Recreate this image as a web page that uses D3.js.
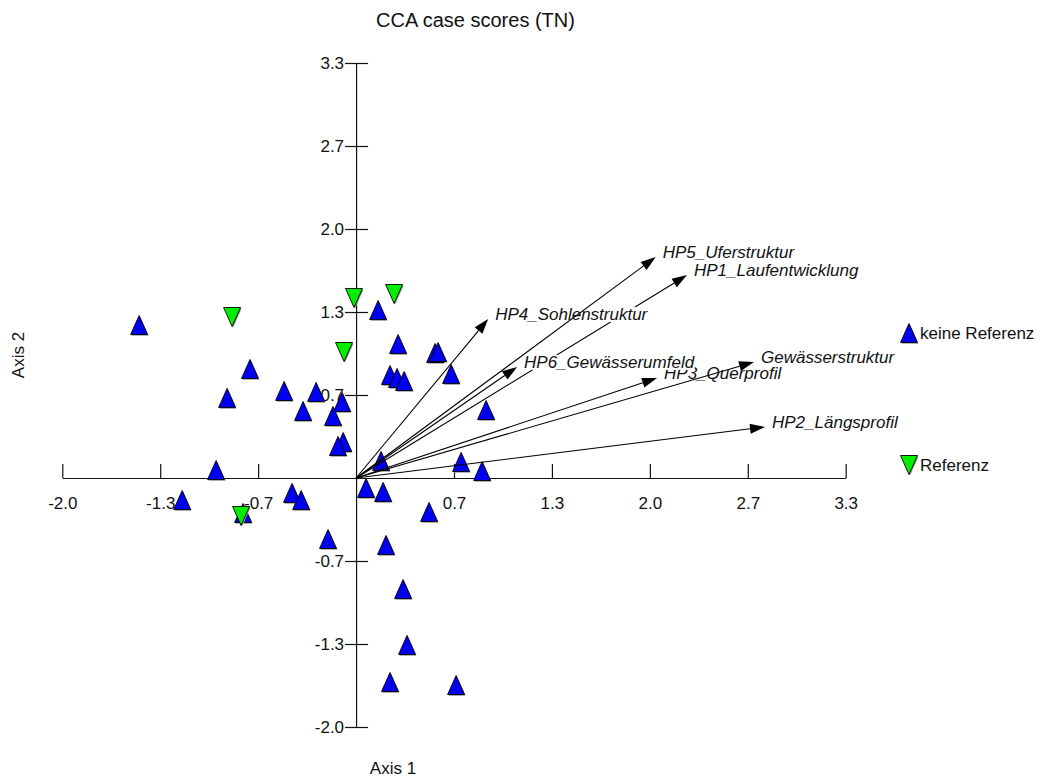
<!DOCTYPE html>
<html>
<head>
<meta charset="utf-8">
<script src="https://cdn.jsdelivr.net/npm/d3@7"></script>
<style>
  html, body { margin: 0; padding: 0; background: #fff; }
  svg { display: block; font-family: "Liberation Sans", Arial, sans-serif; }
</style>
</head>
<body>
<svg id="chart" width="1043" height="780"></svg>
<script>
// Axis ticks (multiples of 2/3, labelled with one decimal)
const tickValues = [-2, -4 / 3, -2 / 3, 2 / 3, 4 / 3, 2, 8 / 3, 10 / 3];
const tickLabels = ["-2.0", "-1.3", "-0.7", "0.7", "1.3", "2.0", "2.7", "3.3"];

// Sample scores: sites without reference status
const blueX = [-1.477, -0.722, -0.878, -0.490, -0.361, -0.272, -0.095, -0.157, -0.088, -0.123,
               -0.953, -1.184, -0.769, -0.436, -0.374, 0.150, 0.286, 0.538, 0.558, 0.231,
               0.279, 0.327, 0.647, 0.885, 0.715, 0.858, 0.170, 0.068, 0.184, -0.191,
               0.204, 0.497, 0.320, 0.347, 0.231, 0.681];
const blueY = [1.229, 0.876, 0.643, 0.699, 0.538, 0.691, 0.610, 0.498, 0.289, 0.257,
               0.064, -0.177, -0.281, -0.120, -0.177, 1.349, 1.076, 1.004, 1.012, 0.827,
               0.803, 0.779, 0.835, 0.546, 0.129, 0.056, 0.137, -0.080, -0.112, -0.490,
               -0.538, -0.273, -0.892, -1.341, -1.639, -1.663];

// Sample scores: reference sites
const greenX = [-0.844, -0.082, -0.014, 0.259, -0.783];
const greenY = [1.293, 1.012, 1.446, 1.478, -0.305];

// Environmental variables (biplot arrows)
const envNames = ["HP1_Laufentwicklung", "HP2_Längsprofil", "HP3_Querprofil", "HP4_Sohlenstruktur",
                  "HP5_Uferstruktur", "HP6_Gewässerumfeld", "Gewässerstruktur"];
const envX = [2.253, 2.784, 2.049, 0.899, 2.040, 1.096, 2.709];
const envY = [1.630, 0.410, 0.803, 1.277, 1.775, 0.892, 0.932];

const legendLabels = ["keine Referenz", "Referenz"];

const BLUE = "#0000f0";
const GREEN = "#00ee00";

const svg = d3.select("#chart");

const x = d3.scaleLinear().domain([-2, 10 / 3]).range([62.3, 845.7]);
const y = d3.scaleLinear().domain([-2, 10 / 3]).range([727, 63]);

// Triangle symbols centred on their bounding box
const triUp = {
  draw(ctx, size) {
    const w = size / 2, h = size * 19 / 17 / 2;
    ctx.moveTo(0, -h); ctx.lineTo(w, h); ctx.lineTo(-w, h); ctx.closePath();
  }
};
const triDown = {
  draw(ctx, size) {
    const w = size / 2, h = size * 19 / 17 / 2;
    ctx.moveTo(0, h); ctx.lineTo(w, -h); ctx.lineTo(-w, -h); ctx.closePath();
  }
};
const upPath = d3.symbol().type(triUp).size(17)();
const downPath = d3.symbol().type(triDown).size(17)();

// Title and axis titles
svg.append("text")
  .attr("x", 376).attr("y", 27)
  .attr("font-size", 20)
  .attr("fill", "#111")
  .text("CCA case scores (TN)");

svg.append("text")
  .attr("x", 393).attr("y", 774)
  .attr("text-anchor", "middle")
  .attr("font-size", 17)
  .attr("fill", "#111")
  .text("Axis 1");

svg.append("text")
  .attr("transform", "translate(24,355) rotate(-90)")
  .attr("text-anchor", "middle")
  .attr("font-size", 17)
  .attr("fill", "#111")
  .text("Axis 2");

// X axis: ticks above the line, labels below
const xAxis = d3.axisBottom(x)
  .tickValues(tickValues)
  .tickFormat((d, i) => tickLabels[i])
  .tickSizeInner(-14)
  .tickSizeOuter(0)
  .tickPadding(19);
const gx = svg.append("g")
  .attr("transform", `translate(0,${y(0)})`)
  .call(xAxis);

// Y axis: ticks crossing the line, labels on the left
const yAxis = d3.axisLeft(y)
  .tickValues(tickValues)
  .tickFormat((d, i) => tickLabels[i])
  .tickSizeInner(11)
  .tickSizeOuter(0)
  .tickPadding(1);
const gy = svg.append("g")
  .attr("transform", `translate(${x(0)},0)`)
  .call(yAxis);
gy.selectAll(".tick line").attr("x1", 12).attr("x2", -11);

[gx, gy].forEach(g => {
  g.select(".domain").attr("stroke", "#111").attr("stroke-width", 1.2);
  g.selectAll(".tick line").attr("stroke", "#111").attr("stroke-width", 1.2);
  g.selectAll(".tick text")
    .attr("font-size", 17)
    .attr("font-family", "Liberation Sans, Arial, sans-serif")
    .attr("fill", "#111");
});

// Sample points
function drawPoints(xs, ys, path, fill) {
  const g = svg.append("g");
  const data = xs.map((v, i) => [v, ys[i]]);
  g.selectAll("path.shadow").data(data).join("path")
    .attr("class", "shadow")
    .attr("d", path)
    .attr("transform", d => `translate(${x(d[0]) + 1},${y(d[1]) + 1.2})`)
    .attr("fill", "#9a9a9a");
  g.selectAll("path.pt").data(data).join("path")
    .attr("class", "pt")
    .attr("d", path)
    .attr("transform", d => `translate(${x(d[0])},${y(d[1])})`)
    .attr("fill", fill)
    .attr("stroke", "#000")
    .attr("stroke-width", 0.9);
}
drawPoints(blueX, blueY, upPath, BLUE);
drawPoints(greenX, greenY, downPath, GREEN);

// Biplot arrows for environmental variables, each label on a white backing
const x0 = x(0), y0 = y(0);
envNames.forEach((name, i) => {
  const tx = x(envX[i]), ty = y(envY[i]);
  const ang = Math.atan2(ty - y0, tx - x0);
  const len = 15, half = 5;
  const bx = tx - len * Math.cos(ang), by = ty - len * Math.sin(ang);
  const g = svg.append("g");
  g.append("line")
    .attr("x1", x0).attr("y1", y0)
    .attr("x2", bx).attr("y2", by)
    .attr("stroke", "#000").attr("stroke-width", 1.1);
  g.append("path")
    .attr("d", `M${tx},${ty}L${bx + half * Math.sin(ang)},${by - half * Math.cos(ang)}L${bx - half * Math.sin(ang)},${by + half * Math.cos(ang)}Z`)
    .attr("fill", "#000");
  const bg = g.append("rect").attr("fill", "#fff");
  const t = g.append("text")
    .attr("x", tx + 7).attr("y", ty - 5)
    .attr("dy", "0.35em")
    .attr("font-size", 17)
    .attr("font-style", "italic")
    .attr("fill", "#111")
    .text(name);
  const bb = t.node().getBBox();
  bg.attr("x", bb.x).attr("y", bb.y + 2).attr("width", bb.width).attr("height", bb.height - 4);
});

// Legend
const legend = svg.append("g");
const legendItems = [
  { label: legendLabels[0], path: upPath, fill: BLUE, lx: 909, ly: 333 },
  { label: legendLabels[1], path: downPath, fill: GREEN, lx: 909, ly: 465 }
];
legendItems.forEach(it => {
  legend.append("path")
    .attr("d", it.path)
    .attr("transform", `translate(${it.lx + 1},${it.ly + 1.2})`)
    .attr("fill", "#9a9a9a");
  legend.append("path")
    .attr("d", it.path)
    .attr("transform", `translate(${it.lx},${it.ly})`)
    .attr("fill", it.fill)
    .attr("stroke", "#000")
    .attr("stroke-width", 0.9);
  legend.append("text")
    .attr("x", it.lx + 11).attr("y", it.ly)
    .attr("dy", "0.35em")
    .attr("font-size", 17)
    .attr("fill", "#111")
    .text(it.label);
});
</script>
</body>
</html>
